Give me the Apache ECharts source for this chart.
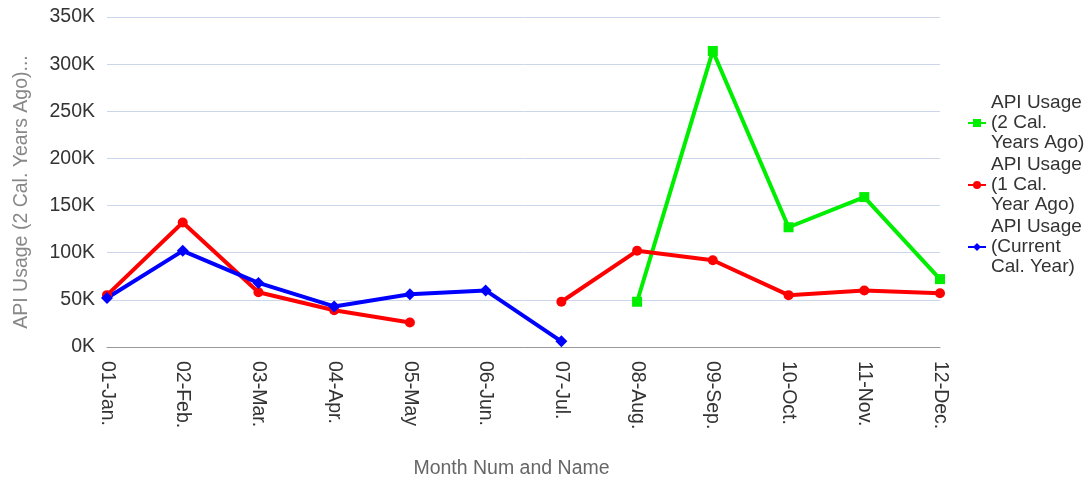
<!DOCTYPE html>
<html>
<head>
<meta charset="utf-8">
<script src="https://cdn.jsdelivr.net/npm/echarts@6/dist/echarts.min.js"></script>
<style>
  html, body { margin: 0; padding: 0; background: #fff; }
  #chart { width: 1091px; height: 480px; }
</style>
</head>
<body>
<div id="chart"></div>
<script>
// month categories on the x axis
const months = ['01-Jan.', '02-Feb.', '03-Mar.', '04-Apr.', '05-May', '06-Jun.',
  '07-Jul.', '08-Aug.', '09-Sep.', '10-Oct.', '11-Nov.', '12-Dec.'];

// api usage values (null = no point)
const twoYearsAgo = [null, null, null, null, null, null, null, 48000, 314000, 127000, 159000, 72000];
const oneYearAgo = [55000, 132000, 58000, 39000, 26000, null, 48000, 102000, 92000, 55000, 60000, 57000];
const currentYear = [52000, 102000, 68000, 43000, 56000, 60000, 6000, null, null, null, null, null];

const seriesNames = ['API Usage (2 Cal. Years Ago)', 'API Usage (1 Cal. Year Ago)', 'API Usage (Current Cal. Year)'];
const legendLabels = {
  'API Usage (2 Cal. Years Ago)': 'API Usage\n(2 Cal.\nYears Ago)',
  'API Usage (1 Cal. Year Ago)': 'API Usage\n(1 Cal.\nYear Ago)',
  'API Usage (Current Cal. Year)': 'API Usage\n(Current\nCal. Year)'
};

const font = 'Arial, "Liberation Sans", sans-serif';
const fs = 19.5;

const chart = echarts.init(document.getElementById('chart'));
chart.setOption({
  animation: false,
  textStyle: { fontFamily: font },
  grid: { left: 107, right: 151, top: 17, bottom: 133, outerBoundsMode: 'none', containLabel: false },
  legend: {
    orient: 'vertical',
    left: 962,
    top: 88,
    itemWidth: 18,
    itemHeight: 10,
    itemGap: 2,
    data: seriesNames,
    formatter: name => legendLabels[name],
    textStyle: { fontSize: 19, color: '#333', lineHeight: 20, fontFamily: font }
  },
  xAxis: {
    type: 'category',
    data: months,
    boundaryGap: false,
    name: 'Month Num and Name',
    nameLocation: 'middle',
    nameGap: 112,
    nameTextStyle: { color: '#666', fontSize: fs, fontFamily: font, padding: [0, 24, 0, 0] },
    axisLine: { lineStyle: { color: '#999', width: 1 } },
    axisTick: { show: false },
    axisLabel: { rotate: -90, color: '#333', fontSize: fs, margin: 14, fontFamily: font }
  },
  yAxis: {
    type: 'value',
    min: 0,
    max: 350000,
    interval: 50000,
    name: 'API Usage (2 Cal. Years Ago)...',
    nameLocation: 'middle',
    nameGap: 75,
    nameTextStyle: { color: '#888', fontSize: fs, fontFamily: font, padding: [0, 20, 0, 0] },
    axisLine: { show: false },
    axisTick: { show: false },
    splitLine: { lineStyle: { color: '#ccd6eb', width: 1 } },
    axisLabel: {
      color: '#333', fontSize: fs, margin: 12, fontFamily: font,
      formatter: v => (v / 1000) + 'K'
    }
  },
  series: [
    {
      name: seriesNames[0], type: 'line', data: twoYearsAgo,
      symbol: 'rect', symbolSize: 10,
      lineStyle: { width: 4, color: '#00ee00' },
      itemStyle: { color: '#00ee00' }
    },
    {
      name: seriesNames[1], type: 'line', data: oneYearAgo,
      symbol: 'circle', symbolSize: 10,
      lineStyle: { width: 4, color: '#ff0000' },
      itemStyle: { color: '#ff0000' }
    },
    {
      name: seriesNames[2], type: 'line', data: currentYear,
      symbol: 'diamond', symbolSize: 12,
      lineStyle: { width: 4, color: '#0000ff' },
      itemStyle: { color: '#0000ff' }
    }
  ]
});
</script>
</body>
</html>
